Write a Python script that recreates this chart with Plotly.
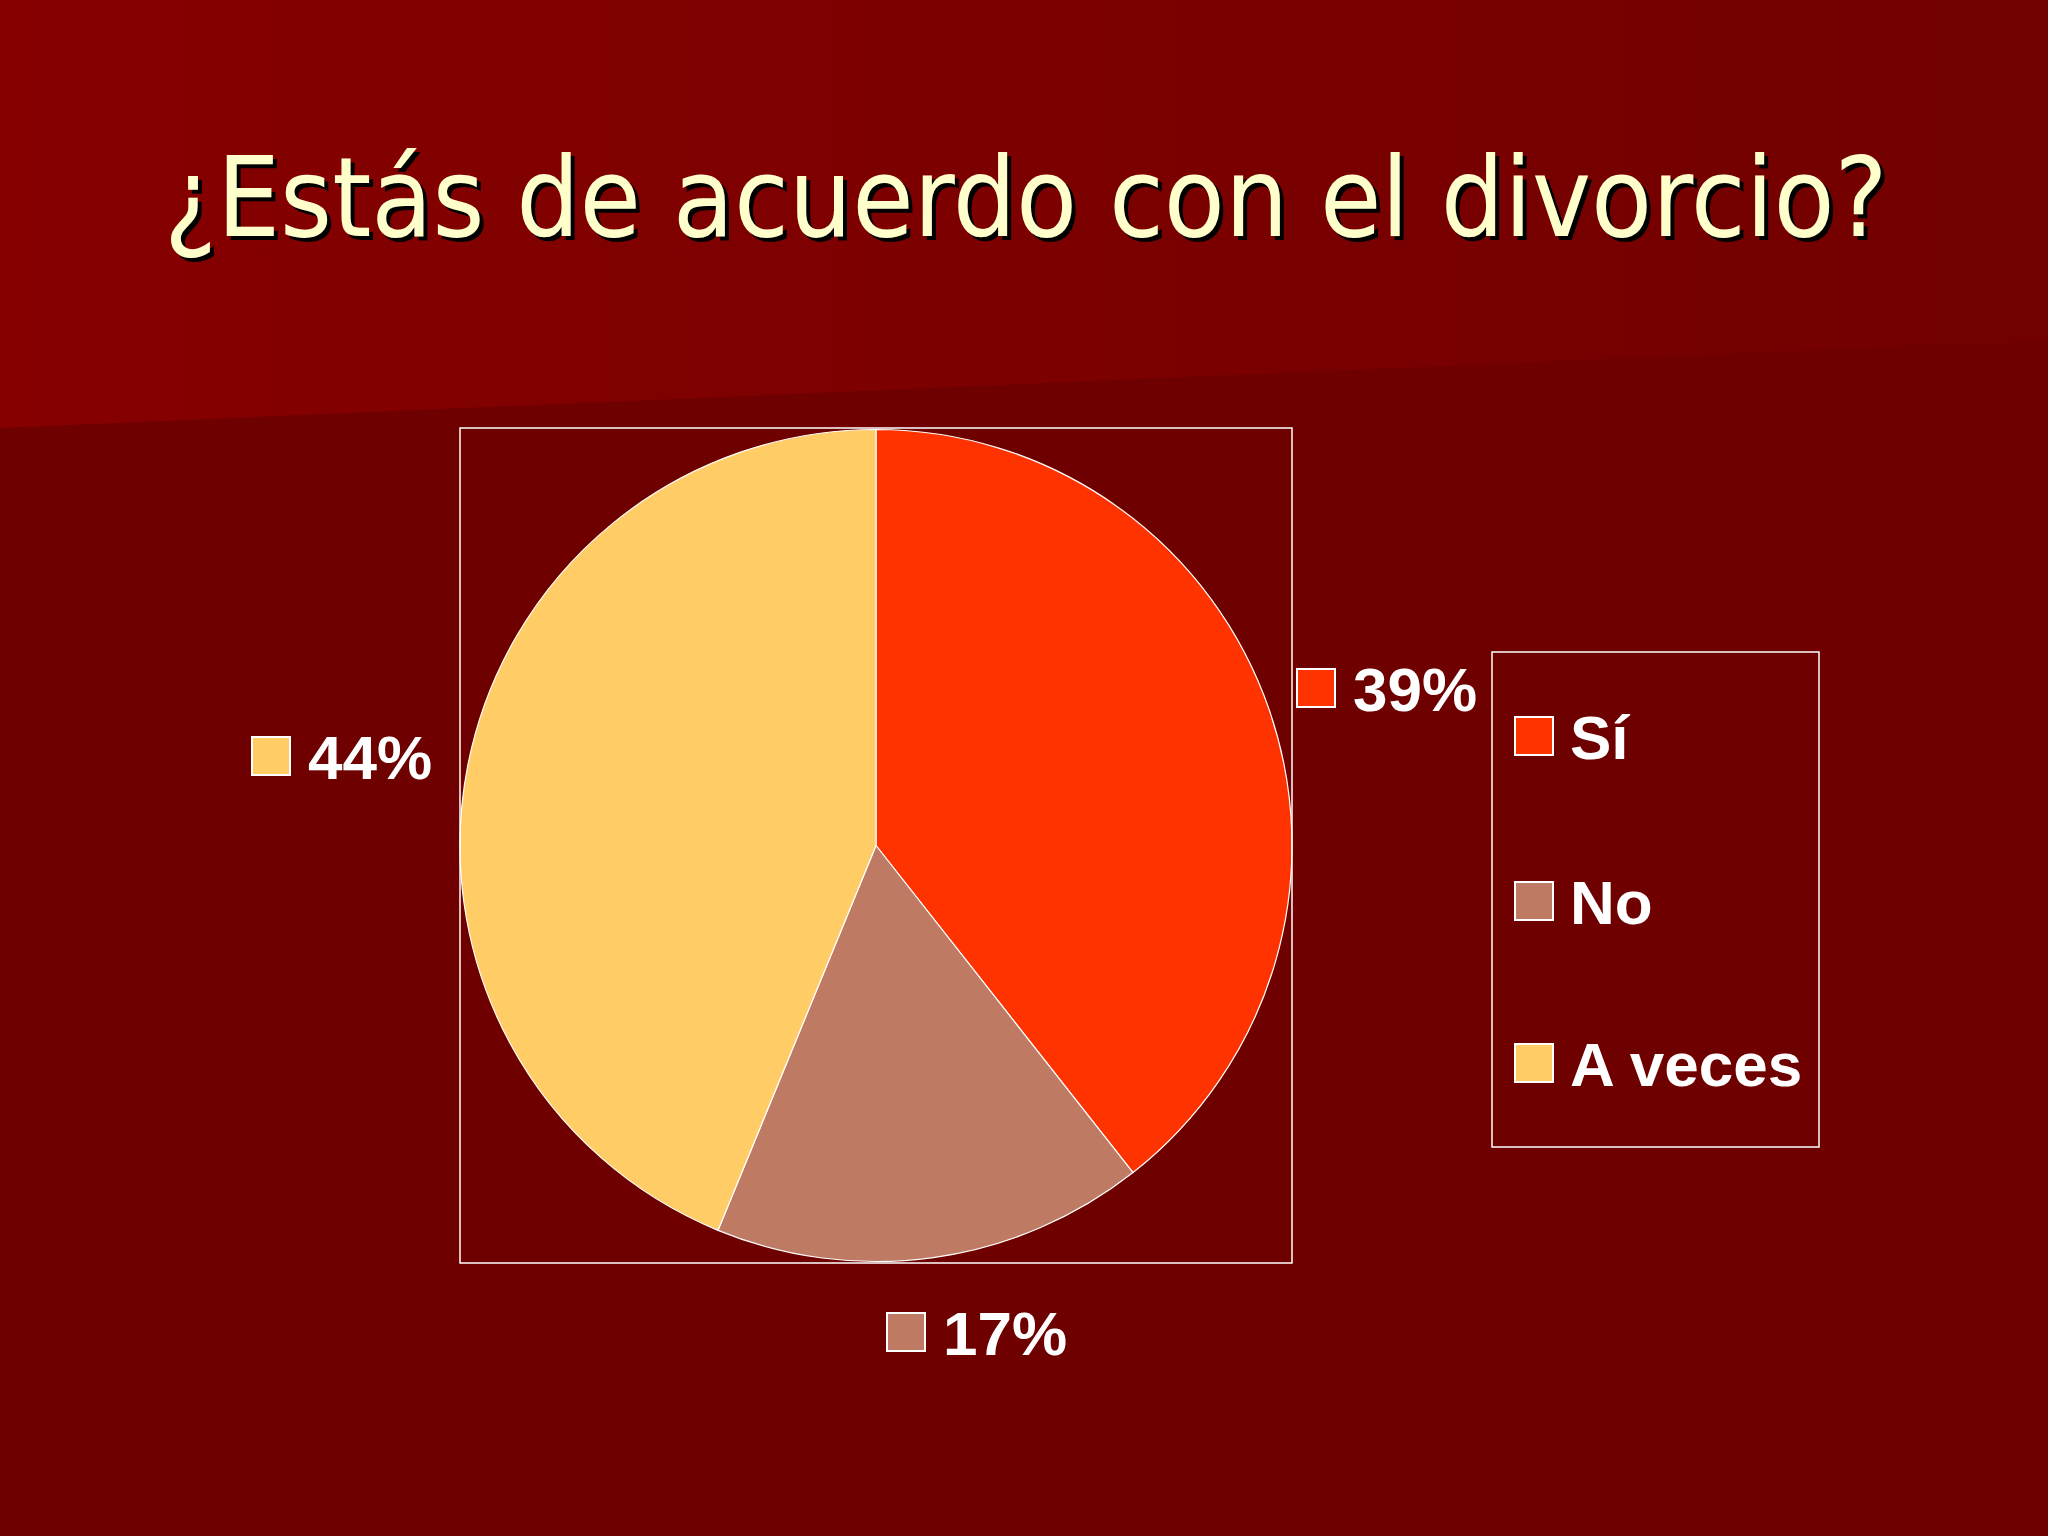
import plotly.graph_objects as go

# ---- data ----
categories = ["Sí", "No", "A veces"]
values = [39.4, 16.8, 43.8]          # slice shares
pct_labels = ["39%", "17%", "44%"]   # printed labels
slice_colors = ["#FF3300", "#BF7A63", "#FFCC66"]
title_text = "¿Estás de acuerdo con el divorcio?"

W, H = 2048, 1536
BG = "#6E0000"

# plot box (pixels)
bx0, bx1, by0, by1 = 460, 1292, 428, 1263

fig = go.Figure()

# background upper band with gradient
fig.add_trace(go.Scatter(
    x=[0, W, W, 0, 0], y=[0, 0, 340, 428, 0],
    mode="lines", line=dict(width=0), fill="toself",
    fillgradient=dict(type="horizontal",
                      colorscale=[[0, "#860000"], [1, "#720000"]]),
    hoverinfo="skip", showlegend=False, xaxis="x", yaxis="y"))

fig.add_trace(go.Pie(
    labels=categories, values=values, sort=False, direction="clockwise",
    rotation=0, marker=dict(colors=slice_colors, line=dict(color="white", width=1.2)),
    textinfo="none", hoverinfo="label+percent", showlegend=False,
    domain=dict(x=[bx0 / W, bx1 / W], y=[1 - by1 / H, 1 - by0 / H])))

shapes = []
annotations = []

# plot area border
shapes.append(dict(type="rect", xref="x", yref="y", x0=bx0, x1=bx1, y0=by0, y1=by1,
                   line=dict(color="white", width=1.5), layer="above"))

# legend box
shapes.append(dict(type="rect", xref="x", yref="y", x0=1492, x1=1819, y0=652, y1=1147,
                   line=dict(color="white", width=1.5), layer="above"))

SQ = 38
lab_font = dict(family="Liberation Sans, Arial, sans-serif", size=62, color="white", weight="bold")

# data labels: square top-left positions per category
lab_pos = {"Sí": (1297, 669), "No": (887, 1313), "A veces": (252, 737)}
for cat, col, txt in zip(categories, slice_colors, pct_labels):
    x0, y0 = lab_pos[cat]
    shapes.append(dict(type="rect", xref="x", yref="y", x0=x0, x1=x0 + SQ, y0=y0, y1=y0 + SQ,
                       fillcolor=col, line=dict(color="white", width=2), layer="above"))
    annotations.append(dict(x=x0 + SQ + 16, y=y0 + SQ / 2 + 1, xref="x", yref="y", text=txt,
                            showarrow=False, xanchor="left", yanchor="middle", font=lab_font))

# legend entries
leg_y = [717, 882, 1044]
for cat, col, y0 in zip(categories, slice_colors, leg_y):
    x0 = 1515
    shapes.append(dict(type="rect", xref="x", yref="y", x0=x0, x1=x0 + SQ, y0=y0, y1=y0 + SQ,
                       fillcolor=col, line=dict(color="white", width=2), layer="above"))
    annotations.append(dict(x=x0 + SQ + 15, y=y0 + SQ / 2 + 1, xref="x", yref="y", text=cat,
                            showarrow=False, xanchor="left", yanchor="middle", font=lab_font))

# title with shadow
tfont = "DejaVu Sans Condensed, DejaVu Sans, Tahoma, sans-serif"
annotations.append(dict(x=1025 + 4, y=197 + 4, xref="x", yref="y", text=title_text, showarrow=False,
                        xanchor="center", yanchor="middle",
                        font=dict(family=tfont, size=111, color="black")))
annotations.append(dict(x=1025, y=197, xref="x", yref="y", text=title_text, showarrow=False,
                        xanchor="center", yanchor="middle",
                        font=dict(family=tfont, size=111, color="#FFFFCC")))

fig.update_layout(
    width=W, height=H, margin=dict(l=0, r=0, t=0, b=0),
    paper_bgcolor=BG, plot_bgcolor=BG,
    xaxis=dict(range=[0, W], visible=False, fixedrange=True, domain=[0, 1]),
    yaxis=dict(range=[H, 0], visible=False, fixedrange=True, domain=[0, 1]),
    shapes=shapes, annotations=annotations, showlegend=False)

fig.write_html("out.html", config={"displayModeBar": False},
               post_script="document.body.style.margin='0';document.body.style.background='" + BG + "';")
